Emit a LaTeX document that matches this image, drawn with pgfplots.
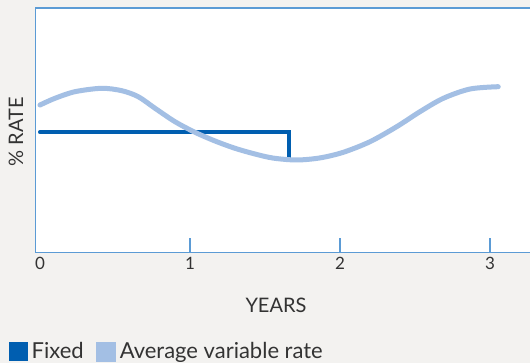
\documentclass[border=0pt]{standalone}
\usepackage{pgfplots}
\pgfplotsset{compat=1.18}
\usepackage{fontspec}
\setmainfont{Lato}
\definecolor{bgc}{HTML}{F3F2F0}
\definecolor{axc}{HTML}{5B9BD5}
\definecolor{fixedc}{HTML}{005EB0}
\definecolor{varc}{HTML}{A3BFE4}
\definecolor{txtc}{HTML}{333333}
\begin{document}
\begin{tikzpicture}
\useasboundingbox (0,0) rectangle (530pt,363pt);
\fill[bgc] (0,0) rectangle (530pt,363pt);
\begin{axis}[
  at={(35.5pt,110.5pt)}, anchor=south west,
  scale only axis, width=509.5pt, height=244.5pt,
  xmin=-0.03, xmax=3.3667, ymin=0, ymax=244.5,
  axis background/.style={fill=white},
  axis line style={draw=axc, line width=1.5pt},
  xtick={1,2,3}, ytick=\empty,
  extra x ticks={0}, extra x tick style={major tick length=0pt},
  tick align=inside, major tick length=14pt,
  xtick pos=bottom,
  tick style={draw=axc, line width=1.2pt},
  /pgf/number format/assume math mode=true,
  xticklabel style={font=\fontsize{17}{20}\selectfont, text=txtc, yshift=-1pt},
  xlabel={YEARS}, ylabel={\% RATE},
  xlabel style={at={(axis description cs:0.472,-0.2147)}, anchor=center, font=\fontsize{20}{24}\selectfont, text=txtc},
  ylabel style={at={(axis description cs:-0.0383,0.493)}, anchor=center, rotate=0, font=\fontsize{20}{24}\selectfont, text=txtc},
  legend columns=2,
  legend style={at={(axis description cs:-0.052,-0.405)}, anchor=west, draw=none, fill=none,
    font=\fontsize{22}{25}\selectfont, text=txtc, inner sep=0pt,
    nodes={inner xsep=3.5pt},
    /tikz/every even column/.append style={column sep=9pt}},
  legend cell align=left,
  clip=false,
]
\addplot[draw=fixedc, line width=4pt, line cap=round,
  legend image code/.code={\fill[fixedc] (0pt,-7.5pt) rectangle (15pt,7.5pt);}]
  coordinates {(0,120.2) (1.662,120.2) (1.662,95.8)};
\addlegendentry{Fixed}
\addplot[draw=varc, line width=5pt, line cap=round, smooth, tension=0.5,
  legend image code/.code={\fill[varc] (0pt,-7.5pt) rectangle (15pt,7.5pt);}]
  coordinates {(0,147.5) (0.1,154.2) (0.233,160.8) (0.411,164.2) (0.545,161.8) (0.655,155.8) (0.767,144.2) (0.9,130.8) (1.033,120.2) (1.167,111.5) (1.3,104.2) (1.433,98.5) (1.555,94.4) (1.711,92.5) (1.867,94.6) (2.022,100.2) (2.2,110.8) (2.378,125.8) (2.533,140.8) (2.689,154.2) (2.867,163.5) (3.055,165.8)};
\addlegendentry{Average variable rate}
\end{axis}
\end{tikzpicture}
\end{document}
